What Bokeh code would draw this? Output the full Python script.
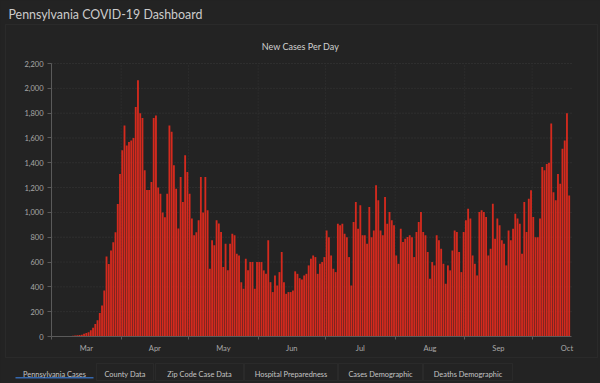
import pandas as pd
from bokeh.plotting import figure
from bokeh.models import (Range1d, FixedTicker, DatetimeTickFormatter, NumeralTickFormatter,
                          Label, BoxAnnotation, ColumnDataSource, LinearAxis)
from bokeh.embed import file_html
from bokeh.resources import INLINE

# ---------------- data ----------------
start_date = "2020-03-01"
mar = [0, 0, 0, 0, 0, 2, 3, 3, 5, 6, 8, 10, 12, 15, 22, 28, 35, 50, 70, 100, 130, 190, 250, 370,
       645, 585, 693, 760, 840, 1068, 1310]
apr = [1500, 1700, 1540, 1567, 1580, 1600, 1850, 2065, 1800, 1760, 1340, 1180, 1180, 1245, 1760,
       1780, 1200, 1150, 1000, 960, 1150, 1700, 1650, 1380, 1190, 870, 1286, 1084, 1460, 1326]
may = [1150, 950, 815, 840, 936, 1286, 1000, 1286, 1017, 546, 775, 735, 936, 910, 842, 560, 748,
       533, 748, 828, 815, 667, 653, 438, 385, 627, 533, 600, 600, 385, 600]
jun = [600, 600, 533, 505, 775, 438, 358, 492, 411, 519, 680, 438, 344, 358, 358, 371, 525, 505,
       470, 460, 492, 505, 573, 627, 653, 640, 505, 586, 600, 640]
jul = [855, 800, 653, 546, 519, 909, 896, 909, 829, 800, 640, 411, 922, 1084, 869, 1057, 815, 815,
       748, 1044, 800, 855, 1218, 1097, 855, 815, 1125, 909, 1003, 936, 896]
aug = [653, 586, 869, 761, 788, 801, 815, 800, 640, 842, 922, 1003, 842, 815, 680, 465, 600, 573,
       815, 775, 707, 586, 425, 573, 533, 694, 855, 842, 680, 519, 842]
sep = [936, 1030, 950, 653, 586, 492, 1003, 1017, 1003, 963, 653, 707, 1070, 788, 950, 896, 775,
       748, 573, 855, 775, 869, 990, 950, 909, 667, 1084, 842, 1111, 1178]
oct_ = [963, 800, 800, 950, 1366, 1340, 1390, 1400, 1716, 1163, 1097, 1310, 1231, 1514, 1580,
        1800, 1137]
cases = mar + apr + may + jun + jul + aug + sep + oct_

month_starts = ["2020-03-01", "2020-04-01", "2020-05-01", "2020-06-01", "2020-07-01",
                "2020-08-01", "2020-09-01", "2020-10-01", "2020-11-01"]
month_names = ["Mar", "Apr", "May", "Jun", "Jul", "Aug", "Sep", "Oct"]
y_ticks = [0, 200, 400, 600, 800, 1000, 1200, 1400, 1600, 1800, 2000, 2200]

page_title = "Pennsylvania COVID-19 Dashboard"
chart_title = "New Cases Per Day"
tab_labels = ["Pennsylvania Cases", "County Data", "Zip Code Case Data",
              "Hospital Preparedness", "Cases Demographic", "Deaths Demographic"]

# ---------------- geometry ----------------
DAY = 86400000.0
W, H = 600, 383
FL, FR, FT, FB = 51, 571, 63, 336           # chart area in page pixels
PX_PER_DAY = 2.246
YMAX = y_ticks[-1]
PX_PER_UNIT = (FB - FT) / YMAX


def ms(s):
    return pd.Timestamp(s).value / 1e6


X0 = ms(start_date)
XEND = X0 + (FR - FL) / PX_PER_DAY * DAY
x_lo = X0 - FL / PX_PER_DAY * DAY
x_hi = X0 + (W - FL) / PX_PER_DAY * DAY
y_lo = -(H - FB) / PX_PER_UNIT
y_hi = YMAX + FT / PX_PER_UNIT

dates = pd.date_range(start_date, periods=len(cases), freq="D")
x_centers = [ms(d) + DAY / 2 for d in dates]
src = ColumnDataSource(dict(x=x_centers, top=cases))

starts_ms = [ms(s) for s in month_starts]
mids_ms = [(starts_ms[i] + starts_ms[i + 1]) / 2 for i in range(len(month_names))]

BG = "#232323"
FONT = "Lato"
AXIS = "#5a5a5a"
TICKLAB = "#a8a8a8"

p = figure(width=W, height=H, output_backend="svg", toolbar_location=None, title=None,
           x_range=Range1d(x_lo, x_hi), y_range=Range1d(y_lo, y_hi),
           x_axis_location=None, y_axis_location=None,
           min_border=0)
p.background_fill_color = BG
p.border_fill_color = BG
p.outline_line_color = None
p.xgrid.visible = False
p.ygrid.visible = False

# grid lines (dotted) limited to the chart area
gy = [t for t in y_ticks if t > 0]
p.segment(x0=[X0] * len(gy), x1=[XEND] * len(gy), y0=gy, y1=gy,
          line_color="#3a3a3a", line_width=1, line_dash="1 2")
gx = starts_ms[1:-1]
p.segment(x0=gx, x1=gx, y0=[0] * len(gx), y1=[YMAX] * len(gx),
          line_color="#333333", line_width=1, line_dash="1 2")

# bars
p.vbar(x="x", top="top", width=0.82 * DAY, source=src, color="#d42a1e", line_color=None)

# axes at fixed locations
xa = LinearAxis(fixed_location=0, bounds=(X0, XEND))
xa.ticker = FixedTicker(ticks=mids_ms, minor_ticks=starts_ms[:-1])
xa.formatter = DatetimeTickFormatter(microseconds="%b", milliseconds="%b", seconds="%b",
                                     minsec="%b", minutes="%b", hourmin="%b", hours="%b",
                                     days="%b", months="%b", years="%b")
xa.major_tick_line_color = None
xa.major_tick_out = 0
xa.major_tick_in = 0
xa.minor_tick_line_color = AXIS
xa.minor_tick_out = 3
xa.minor_tick_in = 0
xa.axis_line_color = AXIS
xa.major_label_standoff = 4
xa.major_label_text_font = FONT
xa.major_label_text_font_size = "7.5px"
xa.major_label_text_color = TICKLAB
p.add_layout(xa, "below")

ya = LinearAxis(fixed_location=X0, bounds=(0, YMAX))
ya.ticker = FixedTicker(ticks=y_ticks)
ya.formatter = NumeralTickFormatter(format="0,0")
ya.axis_line_color = AXIS
ya.major_tick_line_color = AXIS
ya.major_tick_out = 4
ya.major_tick_in = 0
ya.minor_tick_line_color = None
ya.major_label_standoff = 4
ya.major_label_text_font = FONT
ya.major_label_text_font_size = "7.5px"
ya.major_label_text_color = TICKLAB
p.add_layout(ya, "left")


# ---------------- dashboard chrome (screen units = page px, y from bottom) ----------------
def box(l, r, t, b, **kw):
    return BoxAnnotation(left=l, right=r, top=H - t, bottom=H - b,
                         left_units="screen", right_units="screen",
                         top_units="screen", bottom_units="screen", **kw)


def label(x, y, text, size, color, align="left"):
    return Label(x=x, y=H - y, x_units="screen", y_units="screen", text=text,
                 text_baseline="alphabetic", text_align=align, text_font=FONT,
                 text_font_size=size, text_color=color)


p.add_layout(label(8, 13.5, page_title, "12.4px", "#cccccc"))
p.add_layout(box(5, 597, 24, 357, fill_alpha=0, line_color="#3c3c3c", line_width=1))
p.add_layout(label(300, 46, chart_title, "9px", "#d0d0d0", align="center"))

tab_edges = [(13, 95), (96, 153), (155, 243), (244, 337), (338, 422), (423, 512)]
for i, (lab, (l, r)) in enumerate(zip(tab_labels, tab_edges)):
    if i > 0:
        p.add_layout(box(l, r, 363, 380, fill_alpha=0, line_color="#3a3a3a", line_width=1))
    else:
        p.add_layout(box(l + 2, r - 2, 376.5, 378, fill_color="#3567ad", fill_alpha=1,
                         line_color=None))
    p.add_layout(label((l + r) / 2, 374, lab, "7.4px", "#c4c4c4", align="center"))

html = file_html(p, INLINE)
html = html.replace("</head>", "<style>body{background-color:#232323;}</style></head>", 1)
open("out.html", "w").write(html)
